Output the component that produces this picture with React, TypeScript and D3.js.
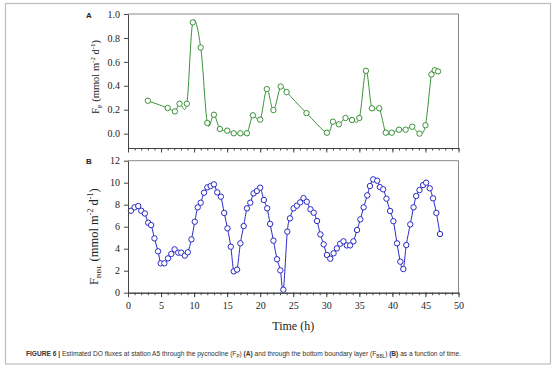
import React, { useEffect, useRef } from "react";
import {
  axisBottom,
  axisLeft,
  curveCatmullRom,
  line,
  range,
  ScaleLinear,
  scaleLinear,
  select,
} from "d3";

// panel A: flux through the pycnocline
const timeP = [
  3.0, 6.0, 7.1, 7.8, 8.9, 9.8, 11.0, 12.0, 13.0, 13.9, 15.0, 16.0, 17.0, 18.0,
  18.9, 20.0, 21.0, 22.0, 23.1, 24.0, 27.0, 30.1, 31.0, 31.9, 32.9, 33.9, 35.0,
  36.0, 36.9, 38.0, 39.0, 39.9, 41.0, 42.0, 43.0, 44.1, 45.0, 45.9, 46.4, 46.9,
];
const fluxP = [
  0.275, 0.214, 0.186, 0.25, 0.25, 0.93, 0.72, 0.089, 0.158, 0.039, 0.025,
  0.003, 0.003, 0.003, 0.153, 0.117, 0.372, 0.197, 0.394, 0.347, 0.172, 0.008,
  0.1, 0.078, 0.131, 0.114, 0.131, 0.525, 0.212, 0.212, 0.008, 0.008, 0.033,
  0.033, 0.058, 0.0, 0.07, 0.495, 0.53, 0.52,
];

// panel B: flux through the bottom boundary layer
const timeBBL = [
  0.45, 1.0, 1.55, 2.0, 2.55, 3.05, 3.5, 4.0, 4.55, 4.95, 5.5, 6.05, 6.55, 7.05,
  7.6, 8.05, 8.6, 9.05, 9.6, 10.1, 10.55, 11.0, 11.5, 12.0, 12.5, 13.0, 13.5,
  14.05, 14.55, 15.05, 15.55, 16.0, 16.5, 17.0, 17.5, 18.0, 18.5, 19.0, 19.5,
  20.0, 20.55, 21.05, 21.5, 22.0, 22.55, 23.05, 23.5, 24.1, 24.5, 25.05, 25.55,
  26.05, 26.55, 27.05, 27.6, 28.1, 28.6, 29.1, 29.6, 30.1, 30.6, 31.1, 31.6,
  32.1, 32.6, 33.1, 33.6, 34.1, 34.65, 35.15, 35.65, 36.2, 36.6, 37.1, 37.7,
  38.1, 38.6, 39.1, 39.65, 40.15, 40.7, 41.2, 41.65, 42.1, 42.7, 43.2, 43.6,
  44.1, 44.65, 45.1, 45.65, 46.15, 46.65, 47.2,
];
const fluxBBL = [
  7.45, 7.76, 7.88, 7.45, 7.2, 6.36, 6.15, 4.94, 3.76, 2.67, 2.67, 3.12, 3.52,
  3.94, 3.64, 3.64, 3.37, 3.67, 4.85, 6.45, 7.76, 8.18, 9.09, 9.58, 9.7, 9.85,
  9.12, 8.73, 7.25, 5.85, 4.18, 1.94, 2.1, 4.49, 6.06, 7.67, 8.18, 9.03, 9.25,
  9.55, 8.43, 7.67, 6.25, 4.73, 3.04, 2.03, 0.27, 5.55, 6.76, 7.67, 7.91, 8.21,
  8.6, 8.27, 7.58, 7.27, 6.52, 5.3, 4.4, 3.43, 3.09, 3.58, 4.03, 4.45, 4.67,
  4.3, 4.3, 4.67, 5.7, 6.67, 7.76, 8.85, 9.7, 10.3, 10.18, 9.6, 9.4, 8.55, 7.43,
  6.5, 4.49, 2.82, 2.15, 4.33, 6.21, 7.76, 8.79, 9.33, 9.79, 10.0, 9.49, 8.58,
  7.25, 5.33,
];

const xTicks = [0, 5, 10, 15, 20, 25, 30, 35, 40, 45, 50];
const yTicksP = [0, 0.2, 0.4, 0.6, 0.8, 1.0];
const yTicksBBL = [0, 2, 4, 6, 8, 10, 12];

const serif = "'Liberation Serif', 'Times New Roman', serif";
const sans = "'Liberation Sans', Arial, sans-serif";

const x0 = 128;
const x1 = 458.5;

function XAxis({
  scale,
  y,
  labels,
}: {
  scale: ScaleLinear<number, number>;
  y: number;
  labels: boolean;
}) {
  const ref = useRef<SVGGElement>(null);
  useEffect(() => {
    if (!ref.current) return;
    const g = select(ref.current);
    g.selectAll("*").remove();
    const minor = g.append("g");
    minor.call(
      axisBottom(scale)
        .tickValues(range(0, 51))
        .tickSize(2.5)
        .tickSizeOuter(0)
        .tickFormat(() => "")
    );
    const major = g.append("g");
    major.call(
      axisBottom(scale)
        .tickValues(xTicks)
        .tickSize(4.5)
        .tickSizeOuter(0)
        .tickPadding(5)
        .tickFormat((d) => (labels ? String(d) : ""))
    );
    g.selectAll(".domain").attr("stroke", "#444");
    g.selectAll("line").attr("stroke", "#444");
    g.selectAll("text")
      .attr("font-family", serif)
      .attr("font-size", 10)
      .attr("fill", "#222");
  }, [scale, labels]);
  return <g ref={ref} transform={`translate(0, ${y})`} />;
}

function YAxis({
  scale,
  ticks,
  digits,
}: {
  scale: ScaleLinear<number, number>;
  ticks: number[];
  digits: number;
}) {
  const ref = useRef<SVGGElement>(null);
  useEffect(() => {
    if (!ref.current) return;
    const g = select(ref.current);
    g.selectAll("*").remove();
    g.call(
      axisLeft(scale)
        .tickValues(ticks)
        .tickSize(4)
        .tickSizeOuter(0)
        .tickPadding(4)
        .tickFormat((d) => (d as number).toFixed(digits))
    );
    g.selectAll(".domain").attr("stroke", "#444");
    g.selectAll("line").attr("stroke", "#444");
    g.selectAll("text")
      .attr("font-family", serif)
      .attr("font-size", 10)
      .attr("fill", "#222");
  }, [scale, ticks, digits]);
  return <g ref={ref} transform={`translate(${x0}, 0)`} />;
}

function Series({
  xs,
  ys,
  scaleX,
  scaleY,
  color,
}: {
  xs: number[];
  ys: number[];
  scaleX: ScaleLinear<number, number>;
  scaleY: ScaleLinear<number, number>;
  color: string;
}) {
  const pts = xs.map((t, i) => [t, ys[i]] as [number, number]);
  // uniform catmull-rom, close to the spline the original plot used
  const path = line<[number, number]>()
    .x((d) => scaleX(d[0]))
    .y((d) => scaleY(d[1]))
    .curve(curveCatmullRom.alpha(0))(pts);
  return (
    <g>
      <path d={path || ""} fill="none" stroke={color} strokeWidth={1} />
      {pts.map((d, i) => (
        <circle
          key={i}
          cx={scaleX(d[0])}
          cy={scaleY(d[1])}
          r={2.7}
          fill="#fff"
          stroke={color}
          strokeWidth={1}
        />
      ))}
    </g>
  );
}

export default function App() {
  const scaleX = scaleLinear().domain([0, 50]).range([x0, x1]);

  // panel A
  const topA = 14;
  const botA = 148;
  const scaleYA = scaleLinear().domain([-0.12, 1.0]).range([botA, topA]);

  // panel B
  const topB = 160.7;
  const botB = 292.7;
  const scaleYB = scaleLinear().domain([0, 12]).range([botB, topB]);

  return (
    <svg
      width={554}
      height={368}
      style={{ position: "absolute", left: 0, top: 0, background: "#fff" }}
    >
      <rect
        x={5.5}
        y={3.5}
        width={545}
        height={360.5}
        fill="#fff"
        stroke="#bdbdbd"
        strokeWidth={1.2}
      />

      {/* panel A */}
      <polyline
        points={`${x0},${topA} ${x1},${topA} ${x1},${botA}`}
        fill="none"
        stroke="#888"
        strokeWidth={1}
      />
      <Series
        xs={timeP}
        ys={fluxP}
        scaleX={scaleX}
        scaleY={scaleYA}
        color="#3a923a"
      />
      <YAxis scale={scaleYA} ticks={yTicksP} digits={1} />
      <XAxis scale={scaleX} y={botA} labels={false} />
      <text
        x={86}
        y={18}
        fontFamily={sans}
        fontWeight="bold"
        fontSize={8}
        fill="#222"
      >
        A
      </text>
      <text
        transform={`translate(99, ${(topA + botA) / 2 - 4}) rotate(-90)`}
        textAnchor="middle"
        fontFamily={serif}
        fontSize={10.5}
        fill="#222"
      >
        F
        <tspan fontSize={7} dy={2.5}>
          P
        </tspan>
        <tspan dy={-2.5}> (mmol m</tspan>
        <tspan fontSize={7} dy={-4}>
          -2
        </tspan>
        <tspan dy={4}> d</tspan>
        <tspan fontSize={7} dy={-4}>
          -1
        </tspan>
        <tspan dy={4}>)</tspan>
      </text>

      {/* panel B */}
      <polyline
        points={`${x0},${topB} ${x1},${topB} ${x1},${botB}`}
        fill="none"
        stroke="#888"
        strokeWidth={1}
      />
      <Series
        xs={timeBBL}
        ys={fluxBBL}
        scaleX={scaleX}
        scaleY={scaleYB}
        color="#2a2ac8"
      />
      <YAxis scale={scaleYB} ticks={yTicksBBL} digits={0} />
      <XAxis scale={scaleX} y={botB} labels={true} />
      <text
        x={86}
        y={164}
        fontFamily={sans}
        fontWeight="bold"
        fontSize={8}
        fill="#222"
      >
        B
      </text>
      <text
        transform={`translate(98, ${(topB + botB) / 2 + 10}) rotate(-90)`}
        textAnchor="middle"
        fontFamily={serif}
        fontSize={12.5}
        fill="#222"
      >
        F
        <tspan fontSize={7} dy={3}>
          BBL
        </tspan>
        <tspan dy={-3}> (mmol m</tspan>
        <tspan fontSize={8} dy={-5}>
          -2
        </tspan>
        <tspan dy={5}> d</tspan>
        <tspan fontSize={8} dy={-5}>
          -1
        </tspan>
        <tspan dy={5}>)</tspan>
      </text>

      <text
        x={(x0 + x1) / 2}
        y={330}
        textAnchor="middle"
        fontFamily={serif}
        fontSize={12}
        fill="#222"
      >
        Time (h)
      </text>

      {/* caption */}
      <text x={26} y={356} fontFamily={sans} fontSize={6.6} fill="#333">
        <tspan fontWeight="bold">FIGURE 6 | </tspan>
        Estimated DO fluxes at station A5 through the pycnocline (F
        <tspan fontSize={4.7} dy={1.5}>
          P
        </tspan>
        <tspan dy={-1.5}>) </tspan>
        <tspan fontWeight="bold">(A)</tspan> and through the bottom boundary
        layer (F
        <tspan fontSize={4.7} dy={1.5}>
          BBL
        </tspan>
        <tspan dy={-1.5}>) </tspan>
        <tspan fontWeight="bold">(B)</tspan> as a function of time.
      </text>
    </svg>
  );
}
